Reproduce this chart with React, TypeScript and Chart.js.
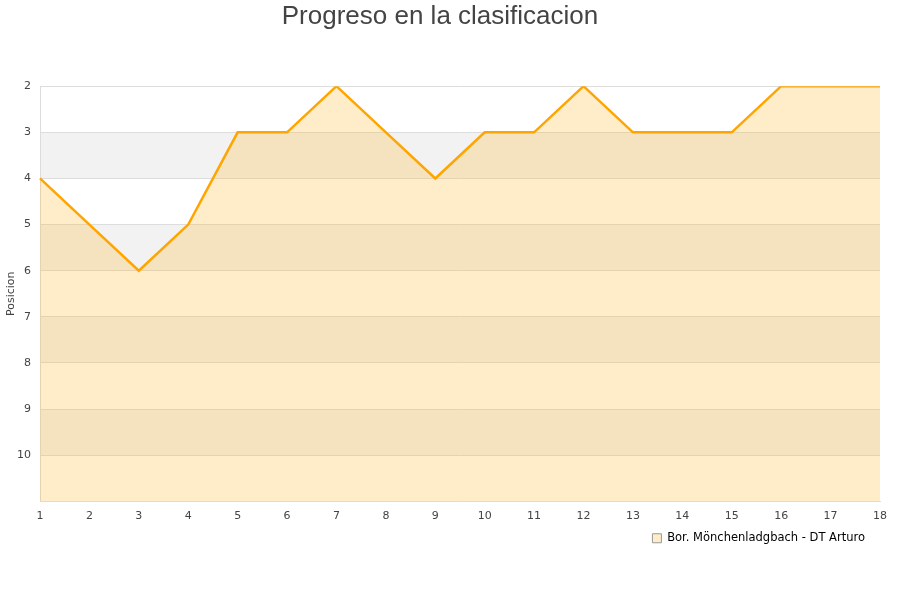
import React, { useEffect, useRef } from "react";
import { Chart, registerables } from "chart.js";

Chart.register(...registerables);

const jornadas = ["1","2","3","4","5","6","7","8","9","10","11","12","13","14","15","16","17","18"];
const posiciones = [4, 5, 6, 5, 3, 3, 2, 3, 4, 3, 3, 2, 3, 3, 3, 2, 2, 2];
const equipo = "Bor. Mönchenladgbach - DT Arturo";
const titulo = "Progreso en la clasificacion";
const ejeY = "Posicion";
const yMin = 2;
const yMax = 11;

const bandPlugin = {
  id: "bands",
  beforeDraw(chart: any) {
    const { ctx, chartArea, scales } = chart;
    const y = scales.y;
    ctx.save();
    for (let v = yMin; v < yMax; v++) {
      if ((v - yMin) % 2 === 1) {
        const a = y.getPixelForValue(v);
        const b = y.getPixelForValue(v + 1);
        ctx.fillStyle = "#f2f2f2";
        ctx.fillRect(chartArea.left, Math.min(a, b), chartArea.right - chartArea.left, Math.abs(b - a));
      }
    }
    ctx.restore();
  },
  afterLayout(chart: any) {
    if (chart.legend) {
      chart.legend.right -= 5;
      chart.legend.left -= 5;
    }
  },
};

export default function App() {
  const ref = useRef<HTMLCanvasElement>(null);
  useEffect(() => {
    const chart = new Chart(ref.current!, {
      type: "line",
      data: {
        labels: jornadas,
        datasets: [
          {
            label: equipo,
            data: posiciones,
            borderColor: "#ffa500",
            borderWidth: 2.5,
            backgroundColor: "rgba(255,180,40,0.25)",
            fill: "start",
            pointRadius: 0,
            tension: 0,
          },
        ],
      },
      options: {
        animation: false,
        responsive: false,
        layout: { padding: { left: 0, right: 20, top: 0, bottom: 46 } },
        plugins: {
          title: {
            display: true,
            text: titulo,
            color: "#444444",
            font: { family: "'Liberation Sans', Arial, sans-serif", size: 26, weight: "normal" },
            padding: { top: 1, bottom: 54 },
          },
          legend: {
            position: "bottom",
            align: "end",
            labels: {
              boxWidth: 9,
              boxHeight: 9,
              padding: 10,
              color: "#000000",
              font: { family: "'DejaVu Sans', sans-serif", size: 11.5 },
              generateLabels: (c: any) => [
                {
                  text: equipo,
                  fillStyle: "#ffecc9",
                  strokeStyle: "#999999",
                  lineWidth: 1,
                  datasetIndex: 0,
                  fontColor: "#000000",
                },
              ],
            },
          },
          tooltip: { enabled: false },
        },
        scales: {
          x: {
            offset: false,
            grid: { display: false },
            border: { color: "#dddddd" },
            ticks: { color: "#444444", font: { family: "'DejaVu Sans', sans-serif", size: 11 }, maxRotation: 0, padding: 0 },
          },
          y: {
            reverse: true,
            min: yMin,
            max: yMax,
            afterBuildTicks: (axis: any) => {
              axis.ticks = [];
              for (let v = yMin; v <= yMax; v++) axis.ticks.push({ value: v });
            },
            afterFit: (axis: any) => {
              axis.width = 40;
            },
            grid: { color: "#dddddd", drawTicks: false },
            border: { color: "#dddddd" },
            title: {
              display: true,
              text: ejeY,
              color: "#444444",
              font: { family: "'DejaVu Sans', sans-serif", size: 11 },
              padding: { top: 5, bottom: 0 },
            },
            ticks: {
              color: "#444444",
              font: { family: "'DejaVu Sans', sans-serif", size: 11 },
              padding: 9,
              callback: (v: any) => (v >= yMax ? "" : String(v)),
            },
          },
        },
      },
      plugins: [bandPlugin],
    });
    return () => chart.destroy();
  }, []);
  return (
    <div style={{ position: "absolute", left: 0, top: 0, width: 900, height: 600, background: "#fff" }}>
      <canvas ref={ref} width={900} height={600} />
    </div>
  );
}
